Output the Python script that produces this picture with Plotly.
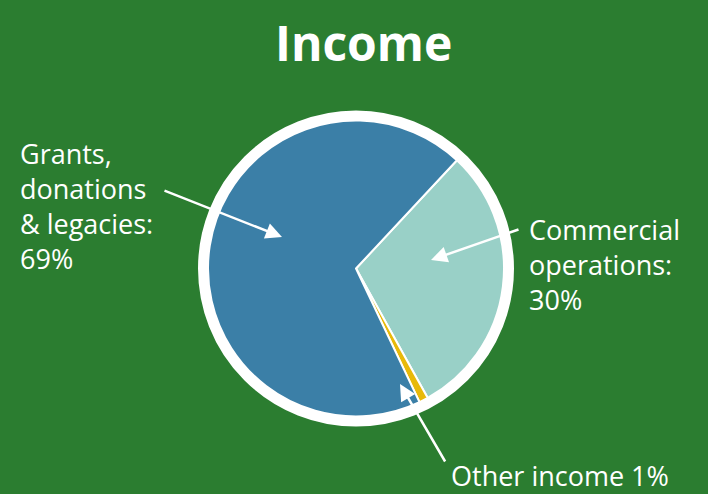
import plotly.graph_objects as go

W, H = 708, 494

categories = ["Commercial operations", "Other income", "Grants, donations & legacies"]
values = [30, 1, 69]
colors = ["#99d0c7", "#e8b90a", "#3b7fa7"]
title_text = "Income"
label_grants = "Grants,<br>donations<br>&amp; legacies:<br>69%"
label_comm = "Commercial<br>operations:<br>30%"
label_other = "Other income 1%"

BG = "#2b7d30"

def px(x):
    return x / W

def py(y):
    return 1 - y / H

cx, cy, r = 356, 268.5, 148

fig = go.Figure(go.Pie(
    labels=categories,
    values=values,
    sort=False,
    direction="clockwise",
    rotation=43,
    marker=dict(colors=colors, line=dict(color="white", width=2)),
    textinfo="none",
    hoverinfo="label+percent",
    showlegend=False,
    domain=dict(x=[px(cx - r), px(cx + r)], y=[py(cy + r), py(cy - r)]),
))

ring_r = r + 5
fig.add_shape(type="circle", xref="paper", yref="paper",
              x0=px(cx - ring_r), x1=px(cx + ring_r),
              y0=py(cy + ring_r), y1=py(cy - ring_r),
              line=dict(color="white", width=10), fillcolor="rgba(0,0,0,0)",
              layer="above")

font = dict(family="Open Sans", size=27, color="white")

ann = []
ann.append(dict(text="<b>" + title_text + "</b>", x=px(363), y=py(43), xref="paper", yref="paper",
                xanchor="center", yanchor="middle", showarrow=False,
                font=dict(family="Open Sans", size=48, color="white")))
ann.append(dict(text=label_grants, x=px(18), y=py(206), xref="paper", yref="paper",
                xanchor="left", yanchor="middle", align="left", showarrow=False, font=font))
ann.append(dict(text=label_comm, x=px(527), y=py(264), xref="paper", yref="paper",
                xanchor="left", yanchor="middle", align="left", showarrow=False, font=font))
ann.append(dict(text=label_other, x=px(450), y=py(475), xref="paper", yref="paper",
                xanchor="left", yanchor="middle", align="left", showarrow=False, font=font,
                borderpad=0))

# arrows: head (x,y), tail offsets in px
def arrow(hx, hy, tx, ty, head=2):
    return dict(text="", x=px(hx), y=py(hy), xref="paper", yref="paper",
                ax=tx - hx, ay=ty - hy, showarrow=True, arrowhead=head,
                arrowsize=1.3, arrowwidth=2.5, arrowcolor="white", standoff=0)

ann.append(arrow(282, 237, 163, 190))
ann.append(arrow(431, 260, 520, 229))
ann.append(arrow(400, 384, 446, 463))

fig.update_layout(
    width=W, height=H,
    margin=dict(l=0, r=0, t=0, b=0),
    paper_bgcolor=BG, plot_bgcolor=BG,
    annotations=ann,
)

fig.write_html("out.html", config={"displayModeBar": False},
               post_script="document.body.style.margin='0';document.body.style.background='" + BG + "';")
